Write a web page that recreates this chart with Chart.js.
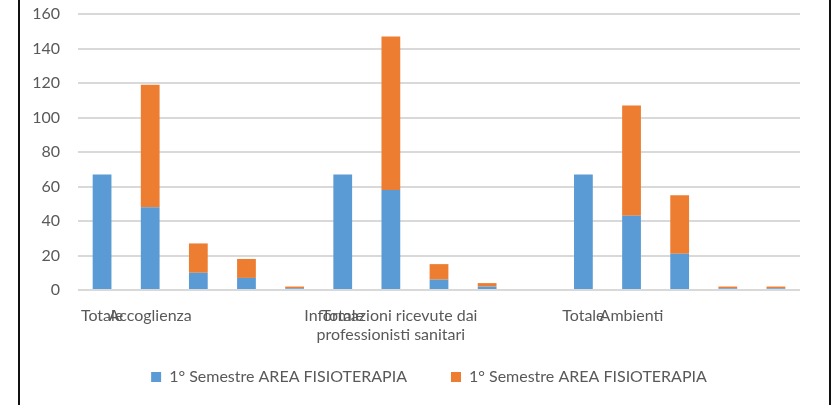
<!DOCTYPE html>
<html>
<head>
<meta charset="utf-8">
<script src="https://cdn.jsdelivr.net/npm/chart.js@4"></script>
<style>
  html, body { margin: 0; padding: 0; background: #fff; }
  #wrap { position: relative; width: 832px; height: 405px; }
  #wrap canvas { position: absolute; left: 0; top: 0; }
  .edge { position: absolute; top: 0; width: 2px; height: 405px; background: #111; }
</style>
</head>
<body>
<div id="wrap">
  <canvas id="chart" width="832" height="405"></canvas>
  <div class="edge" style="left:18px"></div>
  <div class="edge" style="left:829px"></div>
</div>
<script>
// etichette categorie (come nel foglio Excel)
const categories = [
  'Totale', 'Accoglienza', '', '', '',
  'Totale', ['Informazioni ricevute dai', 'professionisti sanitari'], '', '', '',
  'Totale', 'Ambienti', '', '', ''
];
const seriesNames = ['1° Semestre AREA FISIOTERAPIA', '1° Semestre AREA FISIOTERAPIA'];
const blueValues = [67, 48, 10, 7, 1, 67, 58, 6, 2, null, 67, 43, 21, 1, 1];
const orangeValues = [null, 71, 17, 11, 1, null, 89, 9, 2, null, null, 64, 34, 1, 1];
const yTicks = [0, 20, 40, 60, 80, 100, 120, 140, 160];

const font = { family: 'Lato, "Open Sans", sans-serif', size: 16 };
Chart.defaults.font = font;
Chart.defaults.color = '#595959';

// le etichette dell'asse x scendono sotto il box dell'asse: niente taglio
const labelRoom = {
  id: 'labelRoom',
  afterLayout(chart) {
    chart.scales.x.bottom = chart.height;
  },
};

const ctx = document.getElementById('chart').getContext('2d');
new Chart(ctx, {
  type: 'bar',
  data: {
    labels: categories,
    datasets: [
      { label: seriesNames[0], data: blueValues, backgroundColor: '#5B9BD5' },
      { label: seriesNames[1], data: orangeValues, backgroundColor: '#ED7D31' },
    ],
  },
  plugins: [labelRoom],
  options: {
    responsive: false,
    animation: false,
    events: [],
    categoryPercentage: 1,
    barPercentage: 0.39,
    layout: { padding: { left: 20, right: -6, top: 14, bottom: 20 } },
    scales: {
      x: {
        stacked: true,
        grid: { display: false },
        border: { display: false },
        ticks: { autoSkip: false, maxRotation: 0, minRotation: 0, padding: 8, color: '#595959' },
        afterFit: (scale) => { scale.height = 35; },
      },
      y: {
        stacked: true,
        min: 0,
        max: 160,
        afterBuildTicks: (scale) => { scale.ticks = yTicks.map((v) => ({ value: v })); },
        afterFit: (scale) => { scale.width = 58; },
        grid: { color: '#D9D9D9', lineWidth: 2, drawTicks: true, tickLength: 16, tickColor: 'rgba(0,0,0,0)' },
        border: { display: false },
        ticks: { padding: 2, color: '#595959' },
      },
      // asse vuoto a destra, solo per lasciare spazio come nell'originale
      yRight: {
        position: 'right',
        grid: { display: false },
        border: { display: false },
        ticks: { display: false },
        afterFit: (scale) => { scale.width = 38; },
      },
    },
    plugins: {
      tooltip: { enabled: false },
      legend: {
        position: 'bottom',
        maxHeight: 60,
        labels: { boxWidth: 10, boxHeight: 10, padding: 44, color: '#595959' },
      },
    },
  },
});
</script>
</body>
</html>
